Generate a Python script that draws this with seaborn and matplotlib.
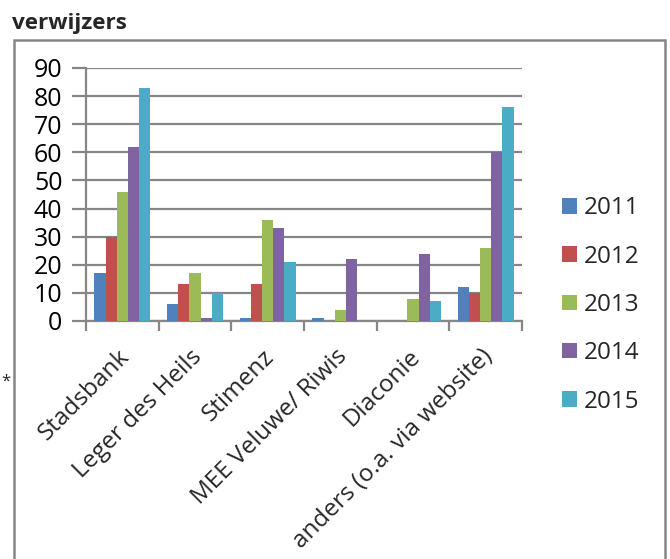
import matplotlib
matplotlib.use("Agg")
import matplotlib.pyplot as plt
from matplotlib.patches import Rectangle
import matplotlib.transforms as mtransforms
import seaborn as sns
import pandas as pd

categories = ["Stadsbank", "Leger des Heils", "Stimenz", "MEE Veluwe/ Riwis",
              "Diaconie", "anders (o.a. via website)"]
years = ["2011", "2012", "2013", "2014", "2015"]
v2011 = [17, 6, 1, 1, 0, 12]
v2012 = [30, 13, 13, 0, 0, 10]
v2013 = [46, 17, 36, 4, 8, 26]
v2014 = [62, 1, 33, 22, 24, 60]
v2015 = [83, 10, 21, 0, 7, 76]
colors = ["#4F81BD", "#C0504D", "#9BBB59", "#8064A2", "#4BACC6"]

series = [v2011, v2012, v2013, v2014, v2015]
rows = []
for y, vals in zip(years, series):
    for c, v in zip(categories, vals):
        rows.append({"cat": c, "year": y, "val": v})
df = pd.DataFrame(rows)

sns.set_style("white")
plt.rcParams["font.family"] = ["Open Sans", "DejaVu Sans"]

fig = plt.figure(figsize=(6.7, 5.59), dpi=100)
ax = fig.add_axes([86/670, 1 - 321/559, (522-86)/670, (321-68)/559])

sns.barplot(data=df, x="cat", y="val", hue="year", order=categories,
            hue_order=years, palette=colors, width=0.77, saturation=1,
            edgecolor="none", linewidth=0, ax=ax, zorder=3, legend=True)

grid_c = "#868686"
ax.set_ylim(0, 90)
ax.set_xlim(-0.5, 5.5)
ax.set_yticks(range(0, 91, 10))
ax.yaxis.grid(True, color=grid_c, linewidth=1.6, zorder=0)
ax.set_axisbelow(True)
for s in ["top", "right"]:
    ax.spines[s].set_visible(False)
ax.spines["left"].set_color(grid_c)
ax.spines["left"].set_linewidth(1.6)
ax.spines["bottom"].set_color(grid_c)
ax.spines["bottom"].set_linewidth(1.6)
ax.tick_params(axis="y", length=10, width=1.6, color=grid_c, labelsize=18,
               labelcolor="black", pad=7, direction="out", left=True)
ax.set_xticks(range(len(categories)))
ax.set_xticklabels(categories, rotation=45, ha="right", va="top",
                   rotation_mode="anchor", fontsize=17.5)
ax.tick_params(axis="x", length=0, pad=17)
off = mtransforms.ScaledTranslation(-5/100, 0, fig.dpi_scale_trans)
for lbl in ax.get_xticklabels():
    lbl.set_transform(lbl.get_transform() + off)
ax.set_xticks([i - 0.5 for i in range(len(categories) + 1)], minor=True)
ax.tick_params(axis="x", which="minor", length=7, width=1.6, color=grid_c,
               direction="out", bottom=True)
ax.set_xlabel("")
ax.set_ylabel("")

handles, labels = ax.get_legend_handles_labels()
ax.legend(handles, labels, loc="center left", bbox_to_anchor=(562/670, 1 - 305/559),
          bbox_transform=fig.transFigure, frameon=False, fontsize=17.5,
          handlelength=0.6, handleheight=0.6, handletextpad=0.3,
          labelspacing=1.0, borderaxespad=0, borderpad=0)

fig.patches.append(Rectangle((14/670, -0.05), (665-14)/670, 1.05 - 40/559,
                             transform=fig.transFigure, fill=False,
                             edgecolor=grid_c, linewidth=1.8))
fig.text(12/670, 1 - 23/559, "verwijzers", fontsize=16.2, fontweight="bold",
         va="center", ha="left")
fig.text(1/670, 1 - 382/559, "*", fontsize=12, va="center", ha="left")

fig.savefig("out.png", dpi=100)
